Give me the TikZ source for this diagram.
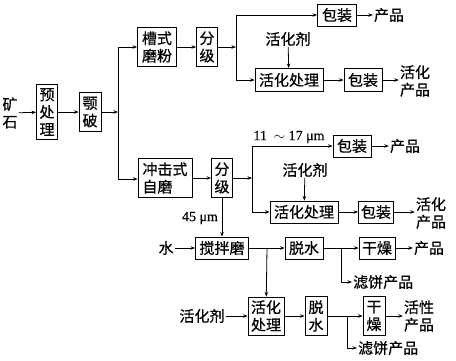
\documentclass[tikz,border=0pt]{standalone}
\usepackage{fontspec}
\newfontfamily\cjk[FakeBold=0.6]{Noto Sans CJK SC}
\newfontfamily\lserif[FakeBold=0.6]{Liberation Serif}
\usetikzlibrary{arrows.meta}
\begin{document}
\begin{tikzpicture}[x=1pt,y=-1pt,
  every node/.style={font=\cjk\fontsize{15}{17.5}\selectfont, inner sep=1pt, align=center},
  box/.style={draw, line width=0.9pt, inner sep=2pt},
  lbl/.style={font=\lserif\fontsize{14}{16}\selectfont, inner sep=0pt},
  conn/.style={line width=0.8pt},
  arr/.style={line width=0.8pt, -{Stealth[length=4.5pt,width=3.5pt]}}]
\useasboundingbox (0,0) rectangle (456,361);
% column 1
\node (ore) at (10,113) {矿\\石};
\node[box, minimum width=21, minimum height=55] (pre) at (47,112) {预\\处\\理};
\node[box, minimum width=22, minimum height=39] (jaw) at (90,112) {颚\\破};
\coordinate (j1) at (118,112);
\coordinate (j1t) at (118,47);
\coordinate (j1b) at (118,179);
% upper branch
\node[box, minimum width=39, minimum height=39] (mill1) at (157,47) {槽式\\磨粉};
\node[box, minimum width=21, minimum height=39] (cls1) at (207,47) {分\\级};
\coordinate (j2) at (236,47);
\coordinate (j2t) at (236,15);
\coordinate (j2b) at (236,80);
\node[box, minimum width=39, minimum height=22] (pack1) at (337,15) {包装};
\node (prod1) at (389,15) {产品};
\node (act1) at (288,39) {活化剂};
\node[box, minimum width=68, minimum height=23] (treat1) at (289,80) {活化处理};
\node[box, minimum width=38, minimum height=23] (pack2) at (363,80) {包装};
\node (aprod1) at (415,81) {活化\\产品};
% lower branch
\node[box, minimum width=54, minimum height=39, align=left] (mill2) at (165,178) {冲击式\\自磨};
\node[box, minimum width=21, minimum height=39] (cls2) at (222,178) {分\\级};
\coordinate (j3) at (252,178);
\coordinate (j3t) at (252,146);
\coordinate (j3b) at (252,212);
\node[lbl] (size1) at (289,137) {11\ \ $\sim$\ 17 μm};
\node[box, minimum width=38, minimum height=22] (pack3) at (352,146) {包装};
\node (prod3) at (405,146) {产品};
\node (act2) at (305,170) {活化剂};
\node[box, minimum width=68, minimum height=22] (treat2) at (304,212) {活化处理};
\node[box, minimum width=35, minimum height=22] (pack4) at (376,212) {包装};
\node (aprod2) at (431,213) {活化\\产品};
\node[lbl] (size2) at (200,218) {45 μm};
% row 2
\node[box, minimum width=53, minimum height=22] (stir) at (222,248) {搅拌磨};
\node (water) at (166,248) {水};
\coordinate (j4) at (267,248);
\node[box, minimum width=38, minimum height=22] (dw1) at (304,248) {脱水};
\coordinate (j5) at (341,248);
\coordinate (j5b) at (341,282);
\node[box, minimum width=36, minimum height=22] (dry1) at (377,248) {干燥};
\node (prod5) at (429,248) {产品};
\node[anchor=west] (cake1) at (352,282) {滤饼产品};
% row 3
\node (act3) at (202,316) {活化剂};
\node[box, minimum width=36, minimum height=38] (treat3) at (266,316) {活化\\处理};
\node[box, minimum width=22, minimum height=39] (dw2) at (316,316) {脱\\水};
\coordinate (j6) at (347,316);
\coordinate (j6b) at (347,348);
\node[box, minimum width=22, minimum height=39] (dry2) at (374,316) {干\\燥};
\node (aprod3) at (419,316) {活性\\产品};
\node[anchor=west] (cake2) at (357,348) {滤饼产品};
% connectors
\draw[arr] (ore) -- (pre);
\draw[arr] (pre) -- (jaw);
\draw[arr] (jaw) -- (j1);
\draw[conn] (j1t) -- (j1b);
\draw[arr] (j1t) -- (mill1);
\draw[arr] (j1b) -- (j1b -| mill2.west);
\draw[arr] (mill1) -- (cls1);
\draw[arr] (cls1) -- (j2);
\draw[conn] (j2t) -- (j2b);
\draw[arr] (j2t) -- (pack1);
\draw[arr] (j2b) -- (treat1);
\draw[arr] (pack1) -- (prod1);
\draw[arr] (act1) -- (treat1);
\draw[arr] (treat1) -- (pack2);
\draw[arr] (pack2) -- (pack2 -| aprod1.west);
\draw[arr] (mill2) -- (cls2);
\draw[arr] (cls2) -- (j3);
\draw[conn] (j3t) -- (j3b);
\draw[arr] (j3t) -- (pack3);
\draw[arr] (j3b) -- (treat2);
\draw[arr] (pack3) -- (prod3);
\draw[arr] (act2) -- (treat2);
\draw[arr] (treat2) -- (pack4);
\draw[arr] (pack4) -- (pack4 -| aprod2.west);
\draw[arr] (cls2) -- (stir);
\draw[arr] (water) -- (stir);
\draw[conn] (stir) -- (j4);
\draw[arr] (j4) -- (dw1);
\draw[arr] (j4) -- (treat3);
\draw[conn] (dw1) -- (j5);
\draw[arr] (j5) -- (dry1);
\draw[conn] (j5) -- (j5b);
\draw[arr] (j5b) -- (cake1);
\draw[arr] (dry1) -- (prod5);
\draw[arr] (act3) -- (treat3);
\draw[arr] (treat3) -- (dw2);
\draw[conn] (dw2) -- (j6);
\draw[arr] (j6) -- (dry2);
\draw[conn] (j6) -- (j6b);
\draw[arr] (j6b) -- (cake2);
\draw[arr] (dry2) -- (dry2 -| aprod3.west);
\end{tikzpicture}
\end{document}
